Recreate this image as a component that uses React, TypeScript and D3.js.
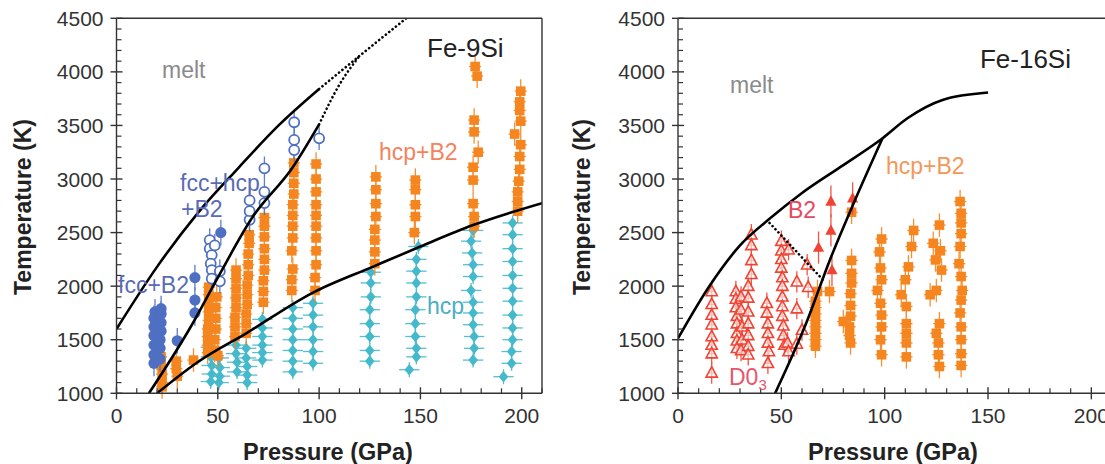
import React from 'react';
import * as d3 from 'd3';

type Pt = [number, number];

// ---------------- Fe-9Si (left panel) ----------------
const L_FCC_B2: Pt[] = [
  [18.5, 1280], [18.5, 1360], [18.5, 1450], [18.5, 1540], [18.5, 1620], [18.5, 1700], [19, 1760],
  [21.5, 1320], [21.5, 1420], [21.5, 1500], [22, 1580], [22, 1660], [22, 1740], [22, 1790],
  [30, 1490], [38.7, 1750], [38.7, 1870], [38.7, 2080], [51.5, 2500],
];
const L_FCC_HCP_B2: Pt[] = [
  [46, 2430], [46, 2350], [47, 2290], [46.5, 2210], [47, 2150], [47, 2070], [48.5, 2380], [51, 2140], [51, 2045],
  [65.7, 2620], [65.7, 2700], [65.7, 2800], [73, 2775], [73, 2880], [73, 3100],
  [87.7, 3270], [87.7, 3365], [87.7, 3530], [100, 3380],
];
const L_HCP_B2: Pt[] = [
  [22, 1340], [22, 1260], [22.5, 1180], [22.5, 1100], [22.5, 1060],
  [29.5, 1300], [29.5, 1230], [30, 1160], [38, 1310],
  [45, 1380], [45, 1450], [45, 1530], [45, 1600], [45.5, 1680], [45.5, 1760], [45.5, 1840], [45.5, 1920], [45.5, 1990],
  [48.5, 1400], [48.5, 1500], [49, 1600], [49, 1700], [49, 1800], [49.5, 1900], [50, 1350],
  [58.5, 1530], [58.5, 1620], [58.5, 1710], [59, 1800], [59, 1890], [59, 1980], [59, 2070], [59, 2150],
  [64, 1560], [64, 1650], [64, 1740], [64.5, 1830], [64.5, 1920], [64.5, 2010], [65, 2100], [65, 2200], [65, 2300], [65.5, 2400], [65.5, 2480],
  [72.5, 1850], [72.5, 1950], [72.5, 2050], [73, 2150], [73, 2250], [73, 2350], [73, 2460], [73, 2560], [73, 2640],
  [86.5, 1960], [86.5, 2060], [87, 2160], [86.5, 2330], [87, 2450], [87, 2560], [87, 2660], [87, 2760], [87.5, 2860], [87.5, 2960], [87.5, 3060], [87.5, 3150],
  [98, 1960], [98, 2080], [98.5, 2200], [98.5, 2330], [98.5, 2450], [98.5, 2560], [98.5, 2660], [98.5, 2760], [98.5, 2880], [98.5, 3000], [98.5, 3140],
  [127.5, 2210], [127.5, 2320], [127.5, 2430], [127.5, 2530], [128, 2650], [128, 2770], [128, 2900], [128, 3020],
  [147, 2500], [147.5, 2650], [147.5, 2760], [147.5, 2900], [147.5, 2990],
  [176.5, 2560], [176.5, 2650], [176, 2770], [176, 2990], [176, 3110], [178.5, 3250], [176.5, 3440], [176.5, 3550], [178, 3960], [177, 4050],
  [198, 2700], [198, 2790], [198, 2880], [198.5, 2980], [199, 3090], [199, 3210], [199.5, 3320], [196.5, 3420], [199.5, 3540], [199, 3640], [199, 3720], [199.5, 3820],
];
const L_HCP: Pt[] = [
  [46.5, 1430], [46.5, 1340], [47, 1260], [47, 1180], [46.5, 1110],
  [50.5, 1330], [51, 1240], [51, 1160], [50.5, 1100],
  [59, 1450], [59, 1370], [59.5, 1290], [59.5, 1200],
  [64, 1420], [64, 1330], [64.5, 1250], [64.5, 1170], [64.5, 1100],
  [72, 1690], [72, 1610], [72, 1530], [72, 1450], [72, 1380], [72, 1310],
  [87, 1800], [87, 1700], [87, 1600], [87, 1500], [87, 1400], [87, 1300], [87, 1200],
  [97, 1840], [97, 1730], [97, 1620], [97, 1500], [97, 1390], [97, 1280],
  [125.5, 2130], [125.5, 2030], [125.5, 1900], [125, 1780], [125, 1650], [125, 1530], [125, 1400], [125, 1300],
  [149, 2370], [148, 2250], [148, 2140], [148, 2030], [148, 1900], [147.5, 1780], [147.5, 1650], [147.5, 1530], [148, 1420], [148, 1340], [144.5, 1220],
  [176, 2520], [175, 2420], [175.5, 2310], [176, 2200], [176, 2090], [175, 1960], [176, 1850], [176, 1750], [176, 1640], [176.5, 1530], [176.5, 1420], [176, 1310],
  [195.5, 2590], [195.5, 2480], [195.5, 2350], [195.5, 2230], [195.5, 2100], [195.5, 1980], [195.5, 1860], [195.5, 1730], [195.5, 1610], [195.5, 1500], [195, 1390], [195, 1280], [191, 1155],
];
const L_MELT: Pt[] = [[0, 1600], [20, 2180], [40, 2680], [60, 3100], [80, 3500], [100, 3840]];
const L_MELT_EXT: Pt[] = [[100, 3840], [120, 4150], [143, 4500]];
const L_FCC_BOUND: Pt[] = [[16, 1000], [36, 1600], [50, 2080], [67, 2640], [87, 3110], [100, 3510]];
const L_FCC_BOUND_EXT: Pt[] = [[100, 3510], [110, 3880], [120, 4150]];
const L_HCP_BOUND: Pt[] = [[20, 1000], [40, 1290], [64, 1560], [97, 1940], [127, 2185], [150, 2370], [176, 2570], [210, 2775]];

// ---------------- Fe-16Si (right panel) ----------------
const R_D03: Pt[] = [
  [16.3, 1950], [16.3, 1830], [16.3, 1730], [16.3, 1640], [16.3, 1530], [16.3, 1450], [16.3, 1370], [16.3, 1190],
  [28, 1950], [28, 1880], [28, 1800], [28.5, 1720], [28.5, 1650], [28.5, 1560], [28.5, 1490], [28.5, 1420],
  [30.5, 1900], [30.5, 1780], [31, 1620], [31, 1500], [30.5, 1400],
  [34, 2000], [34, 1890], [34, 1760], [34, 1650], [34, 1540], [34, 1440], [34, 1360],
  [35.5, 2480], [35.5, 2380], [35.5, 2240], [35.5, 2110],
  [43, 1840], [43, 1750], [43.5, 1650], [43.5, 1560], [43.5, 1470], [44, 1390], [43.5, 1280],
  [50, 2420], [50, 2330], [50, 2250], [50, 2170], [50.5, 2080], [50.5, 2000], [50.5, 1900], [50.5, 1810], [50.5, 1720], [51, 1630], [51, 1540], [51.5, 1450],
  [53.5, 2340], [53, 1470], [53.5, 1390],
  [57.5, 2040], [57.5, 1790], [57.5, 1460], [60, 1590], [62.5, 2200], [63, 1990],
];
const R_B2: Pt[] = [[68, 2360], [74, 2790], [74, 2520], [74.5, 2150], [84.5, 2820]];
const R_HCP_B2: Pt[] = [
  [66.5, 1440], [66.5, 1500], [66.5, 1560], [66.5, 1620], [66.5, 1680], [66.5, 1740], [66.5, 1800], [66.5, 1860], [67.5, 1950],
  [73.3, 1950], [80, 1670],
  [84, 2690], [84, 2240], [84, 2120], [84, 2030], [83.5, 1930], [83.5, 1820], [83.5, 1720], [83, 1620], [83, 1540], [83.5, 1470],
  [98.5, 2440], [97.5, 2320], [98, 2170], [98.5, 2060], [96.5, 1960], [98, 1840], [98.5, 1730], [98.5, 1620], [98, 1500], [98.5, 1360],
  [114, 2520], [113, 2370], [111.5, 2180], [110, 2060], [108, 1920], [110.5, 1810], [110.5, 1650], [110.5, 1560], [110.5, 1470], [110.5, 1340],
  [126.5, 2570], [123.5, 2400], [127, 2330], [124.6, 2245], [127.5, 2150], [125, 1960], [122, 1920], [126.5, 1650], [125, 1560], [126, 1470], [126, 1360], [126.5, 1250],
  [136.5, 2790], [137, 2680], [137, 2590], [137, 2490], [136.5, 2370], [136, 2210], [137, 2090], [137.5, 1960], [137, 1870], [136.5, 1750], [137, 1620], [137, 1500], [137, 1370], [137, 1260],
];
const R_MELT: Pt[] = [[0, 1513], [15, 1995], [30, 2380], [45, 2640], [60, 2870], [80, 3130], [99, 3381], [111, 3567], [128, 3738], [150, 3807]];
const R_B2_BOUND: Pt[] = [[47, 1000], [62, 1653], [73.5, 2245], [85, 2774], [99, 3381]];
const R_D03_B2: Pt[] = [[44.3, 2590], [70.2, 2058]];

// ---------------- axes ----------------
const X_TICKS = [0, 50, 100, 150, 200];
const X_MINOR = [10, 20, 30, 40, 60, 70, 80, 90, 110, 120, 130, 140, 160, 170, 180, 190, 210];
const Y_TICKS = [1000, 1500, 2000, 2500, 3000, 3500, 4000, 4500];
const Y_MINOR = [1100, 1200, 1300, 1400, 1600, 1700, 1800, 1900, 2100, 2200, 2300, 2400, 2600, 2700, 2800, 2900, 3100, 3200, 3300, 3400, 3600, 3700, 3800, 3900, 4100, 4200, 4300, 4400];

const FONT = "'Liberation Sans', Arial, Helvetica, sans-serif";
const C_BLUE = '#4f6fc2';
const C_ORANGE = '#f5861f';
const C_CYAN = '#45b9cc';
const C_RED = '#ef4433';
const AX = '#333';

const yS = d3.scaleLinear().domain([1000, 4500]).range([393.3, 18.3]);
const xL = d3.scaleLinear().domain([0, 210]).range([116.5, 542]);
const xR = d3.scaleLinear().domain([0, 210]).range([678, 1112]);

type Kind = 'fcircle' | 'ocircle' | 'square' | 'diamond' | 'otri' | 'ftri';

function Marks({ data, xs, kind, color, dT, dP }: { data: Pt[]; xs: d3.ScaleLinear<number, number>; kind: Kind; color: string; dT: number; dP: number }) {
  return (
    <g>
      <g stroke={color} strokeWidth={1.3} opacity={0.9}>
        {data.map((d, i) => (
          <g key={i}>
            <line x1={xs(d[0])} x2={xs(d[0])} y1={yS(d[1] - dT)} y2={yS(d[1] + dT)} />
            {dP > 0 && <line x1={xs(d[0] - dP)} x2={xs(d[0] + dP)} y1={yS(d[1])} y2={yS(d[1])} />}
          </g>
        ))}
      </g>
      {data.map((d, i) => {
        const cx = xs(d[0]);
        const cy = yS(d[1]);
        if (kind === 'fcircle') return <circle key={i} cx={cx} cy={cy} r={5.6} fill={color} />;
        if (kind === 'ocircle') return <circle key={i} cx={cx} cy={cy} r={5} fill="white" stroke={color} strokeWidth={1.8} />;
        if (kind === 'square') return <rect key={i} x={cx - 4.8} y={cy - 4.8} width={9.6} height={9.6} fill={color} />;
        if (kind === 'diamond')
          return <path key={i} d={`M${cx},${cy - 5.8}L${cx + 4.8},${cy}L${cx},${cy + 5.8}L${cx - 4.8},${cy}Z`} fill={color} />;
        const tri = `M${cx},${cy - 6.2}L${cx + 5.6},${cy + 4.2}L${cx - 5.6},${cy + 4.2}Z`;
        if (kind === 'otri') return <path key={i} d={tri} fill="white" fillOpacity={0.6} stroke={color} strokeWidth={1.6} />;
        return <path key={i} d={tri} fill={color} />;
      })}
    </g>
  );
}

function Curve({ data, xs, dotted, clip }: { data: Pt[]; xs: d3.ScaleLinear<number, number>; dotted?: boolean; clip: string }) {
  const gen = d3.line<Pt>().x(d => xs(d[0])).y(d => yS(d[1])).curve(d3.curveMonotoneX);
  return (
    <path
      d={gen(data) || ''}
      fill="none"
      stroke="#000"
      strokeWidth={2.6}
      strokeDasharray={dotted ? '0.1 4.2' : undefined}
      strokeLinecap={dotted ? 'round' : 'butt'}
      clipPath={`url(#${clip})`}
    />
  );
}

function Axes({ xs, x0, xEnd, right }: { xs: d3.ScaleLinear<number, number>; x0: number; xEnd: number; right: number | null }) {
  const yb = yS(1000);
  const yt = yS(4500);
  return (
    <g>
      <line x1={x0} x2={x0} y1={yt} y2={yb} stroke={AX} strokeWidth={1.4} />
      <line x1={x0} x2={xEnd} y1={yb} y2={yb} stroke={AX} strokeWidth={1.4} />
      <line x1={x0} x2={xEnd} y1={yt} y2={yt} stroke={AX} strokeWidth={1.4} />
      {right !== null && <line x1={right} x2={right} y1={yt} y2={yb} stroke={AX} strokeWidth={1.4} />}
      {X_TICKS.map(t => (
        <g key={'xt' + t}>
          <line x1={xs(t)} x2={xs(t)} y1={yb - 6} y2={yb + 6} stroke={AX} strokeWidth={1.4} />
          <text x={xs(t)} y={423} textAnchor="middle" fontSize={21} fill={AX} fontFamily={FONT}>{t}</text>
        </g>
      ))}
      {X_MINOR.filter(t => xs(t) <= xEnd).map(t => (
        <line key={'xm' + t} x1={xs(t)} x2={xs(t)} y1={yb - 5} y2={yb} stroke={AX} strokeWidth={1.2} />
      ))}
      {Y_TICKS.map(t => (
        <g key={'yt' + t}>
          <line x1={x0 - 6} x2={x0 + 6} y1={yS(t)} y2={yS(t)} stroke={AX} strokeWidth={1.4} />
          <text x={x0 - 13} y={yS(t) + 7.5} textAnchor="end" fontSize={21} fill={AX} fontFamily={FONT}>{t}</text>
        </g>
      ))}
      {Y_MINOR.map(t => (
        <line key={'ym' + t} x1={x0} x2={x0 + 5} y1={yS(t)} y2={yS(t)} stroke={AX} strokeWidth={1.2} />
      ))}
    </g>
  );
}

export default function App() {
  const lab = (x: number, y: number, s: string, color: string, size = 23, anchor: 'start' | 'end' = 'start') => (
    <text x={x} y={y} fill={color} fontSize={size} fontFamily={FONT} textAnchor={anchor}>{s}</text>
  );
  return (
    <svg width={1105} height={464} style={{ position: 'absolute', left: 0, top: 0, background: '#fff' }}>
      <defs>
        <clipPath id="clipL"><rect x={116.5} y={18.3} width={425.5} height={375} /></clipPath>
        <clipPath id="clipR"><rect x={678} y={18.3} width={430} height={375} /></clipPath>
      </defs>
      <rect x={0} y={0} width={1105} height={464} fill="#fff" />

      {/* ---------- left panel ---------- */}
      <Marks data={L_HCP} xs={xL} kind="diamond" color={C_CYAN} dT={70} dP={5} />
      <Marks data={L_HCP_B2} xs={xL} kind="square" color={C_ORANGE} dT={110} dP={3} />
      <Marks data={L_FCC_B2} xs={xL} kind="fcircle" color={C_BLUE} dT={120} dP={0} />
      <Marks data={L_FCC_HCP_B2} xs={xL} kind="ocircle" color={C_BLUE} dT={110} dP={0} />
      <Curve data={L_MELT} xs={xL} clip="clipL" />
      <Curve data={L_MELT_EXT} xs={xL} clip="clipL" dotted />
      <Curve data={L_FCC_BOUND} xs={xL} clip="clipL" />
      <Curve data={L_FCC_BOUND_EXT} xs={xL} clip="clipL" dotted />
      <Curve data={L_HCP_BOUND} xs={xL} clip="clipL" />
      <Axes xs={xL} x0={116.5} xEnd={542} right={542} />
      {lab(162, 78, 'melt', '#8a8a8a')}
      {lab(427, 57, 'Fe-9Si', '#222', 26)}
      {lab(379, 160, 'hcp+B2', '#f2835a')}
      {lab(180, 191, 'fcc+hcp', '#5a6bb6')}
      {lab(181, 217, '+B2', '#5a6bb6')}
      {lab(118, 293, 'fcc+B2', '#5a6bb6')}
      {lab(427, 314, 'hcp', '#4aaec6')}

      {/* ---------- right panel ---------- */}
      <Marks data={R_HCP_B2} xs={xR} kind="square" color={C_ORANGE} dT={110} dP={3} />
      <Marks data={R_D03} xs={xR} kind="otri" color={C_RED} dT={100} dP={1.5} />
      <Marks data={R_B2} xs={xR} kind="ftri" color={C_RED} dT={150} dP={0} />
      <Curve data={R_MELT} xs={xR} clip="clipR" />
      <Curve data={R_B2_BOUND} xs={xR} clip="clipR" />
      <Curve data={R_D03_B2} xs={xR} clip="clipR" dotted />
      <Axes xs={xR} x0={678} xEnd={1105} right={null} />
      {lab(730, 93, 'melt', '#8a8a8a')}
      {lab(1071, 68, 'Fe-16Si', '#222', 26, 'end')}
      {lab(886, 174, 'hcp+B2', '#f4975a')}
      {lab(788, 218, 'B2', '#e8485c')}
      <text x={729} y={385} fill="#e8566a" fontSize={23} fontFamily={FONT}>
        D0<tspan fontSize={15} dy={5}>3</tspan>
      </text>

      <text transform="translate(31,207) rotate(-90)" textAnchor="middle" fontSize={23} fontWeight="bold" fill="#222" fontFamily={FONT}>Temperature (K)</text>
      <text x={328} y={460} textAnchor="middle" fontSize={23.5} fontWeight="bold" fill="#222" fontFamily={FONT}>Pressure (GPa)</text>
      <text transform="translate(590,207) rotate(-90)" textAnchor="middle" fontSize={23} fontWeight="bold" fill="#222" fontFamily={FONT}>Temperature (K)</text>
      <text x={893} y={460} textAnchor="middle" fontSize={23.5} fontWeight="bold" fill="#222" fontFamily={FONT}>Pressure (GPa)</text>
    </svg>
  );
}
